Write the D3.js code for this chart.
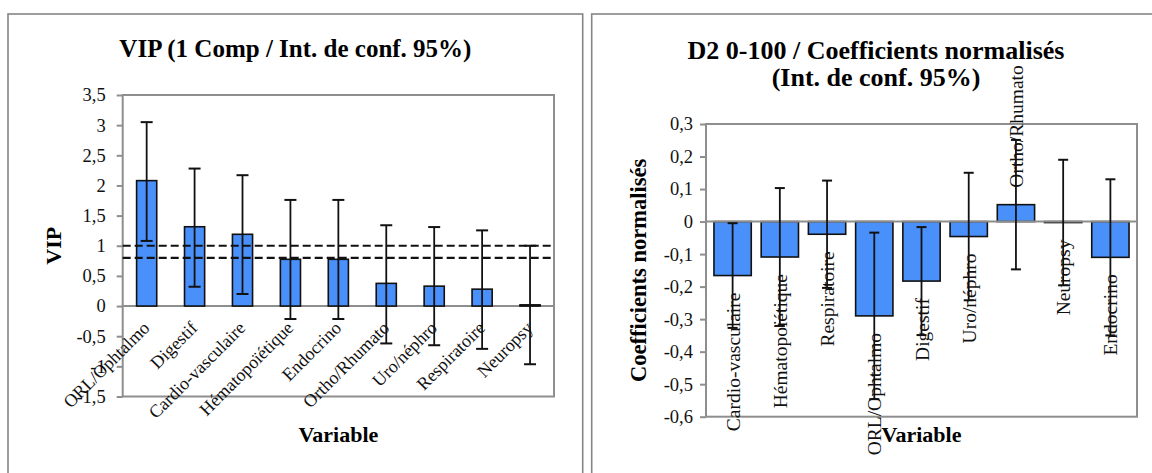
<!DOCTYPE html>
<html>
<head>
<meta charset="utf-8">
<script src="https://cdn.jsdelivr.net/npm/d3@7/dist/d3.min.js"></script>
<style>
  html, body { margin: 0; padding: 0; background: #ffffff; }
  svg { display: block; }
</style>
</head>
<body>
<svg id="chart" width="1152" height="473"></svg>
<script>
// ---------- DATA ----------
const vipCategories = ["ORL/Ophtalmo", "Digestif", "Cardio-vasculaire", "Hématopoïétique", "Endocrino", "Ortho/Rhumato", "Uro/néphro", "Respiratoire", "Neuropsy"];
const vipValues = [2.08, 1.315, 1.19, 0.775, 0.775, 0.376, 0.33, 0.28, 0.02];
const vipLower  = [1.08, 0.32, 0.20, -0.215, -0.215, -0.62, -0.65, -0.71, -0.965];
const vipUpper  = [3.05, 2.28, 2.17, 1.76, 1.76, 1.34, 1.31, 1.255, 1.0];
const vipThresholds = [1, 0.8];
const vipTicks = [-1.5, -1, -0.5, 0, 0.5, 1, 1.5, 2, 2.5, 3, 3.5];

const coefCategories = ["Cardio-vasculaire", "Hématopoïétique", "Respiratoire", "ORL/Ophtalmo", "Digestif", "Uro/néphro", "Ortho/Rhumato", "Neuropsy", "Endocrino"];
const coefValues = [-0.166, -0.109, -0.039, -0.29, -0.183, -0.046, 0.052, -0.003, -0.11];
const coefLower  = [-0.327, -0.321, -0.204, -0.546, -0.349, -0.242, -0.147, -0.196, -0.35];
const coefUpper  = [-0.005, 0.103, 0.126, -0.034, -0.017, 0.150, 0.251, 0.19, 0.13];
const coefTicks = [-0.6, -0.5, -0.4, -0.3, -0.2, -0.1, 0, 0.1, 0.2, 0.3];

const titles = {
  vip: ["VIP (1 Comp / Int. de conf. 95%)"],
  coef: ["D2 0-100 / Coefficients normalisés", "(Int. de conf. 95%)"]
};

// ---------- STYLE ----------
const SERIF = "'Liberation Serif', 'Times New Roman', serif";
const BAR_FILL = "#4a90fa";
const GRID_GRAY = "#8e8e8e";
const fmt = d => String(d).replace(".", ",");

const svg = d3.select("#chart");

// panel frames
svg.append("rect").attr("x", 8).attr("y", 14).attr("width", 574.7).attr("height", 480)
  .attr("fill", "none").attr("stroke", "#858585").attr("stroke-width", 1.6);
svg.append("rect").attr("x", 591.7).attr("y", 14).attr("width", 580).attr("height", 480)
  .attr("fill", "none").attr("stroke", "#858585").attr("stroke-width", 1.6);

// ============ LEFT CHART : VIP ============
(function () {
  const L = 122.7, R = 554, T = 95, B = 396.5;
  const g = svg.append("g");
  const x = d3.scaleBand().domain(vipCategories).range([L, R]).paddingInner(0.58).paddingOuter(0.29);
  const y = d3.scaleLinear().domain([-1.5, 3.5]).range([B, T]);

  // title
  g.append("text").attr("x", 295.4).attr("y", 57).attr("text-anchor", "middle")
    .attr("font-family", SERIF).attr("font-weight", "bold").attr("font-size", 25)
    .text(titles.vip[0]);

  // plot border
  g.append("rect").attr("x", L).attr("y", T).attr("width", R - L).attr("height", B - T)
    .attr("fill", "none").attr("stroke", GRID_GRAY).attr("stroke-width", 2);

  // y axis
  const ax = g.append("g").attr("transform", `translate(${L},0)`)
    .call(d3.axisLeft(y).tickValues(vipTicks).tickFormat(fmt).tickSize(6).tickPadding(11));
  ax.select(".domain").remove();
  ax.selectAll(".tick line").attr("stroke", GRID_GRAY).attr("stroke-width", 2);
  ax.selectAll(".tick text").attr("font-family", SERIF).attr("font-size", 18.5).attr("fill", "#111");

  // zero line
  g.append("line").attr("x1", L).attr("x2", R).attr("y1", y(0)).attr("y2", y(0))
    .attr("stroke", GRID_GRAY).attr("stroke-width", 2);

  // bars
  g.selectAll("rect.bar").data(vipCategories).enter().append("rect").attr("class", "bar")
    .attr("x", d => x(d)).attr("width", x.bandwidth())
    .attr("y", (d, i) => y(Math.max(0, vipValues[i])))
    .attr("height", (d, i) => Math.abs(y(vipValues[i]) - y(0)))
    .attr("fill", BAR_FILL).attr("stroke", "#111").attr("stroke-width", 1.6);

  // threshold dashed lines
  g.selectAll("line.thr").data(vipThresholds).enter().append("line").attr("class", "thr")
    .attr("x1", L).attr("x2", R).attr("y1", d => y(d)).attr("y2", d => y(d))
    .attr("stroke", "#111").attr("stroke-width", 2.2).attr("stroke-dasharray", "8,4");

  // error bars
  const cap = 6;
  vipCategories.forEach((c, i) => {
    const cx = x(c) + x.bandwidth() / 2;
    g.append("line").attr("x1", cx).attr("x2", cx).attr("y1", y(vipLower[i])).attr("y2", y(vipUpper[i]))
      .attr("stroke", "#111").attr("stroke-width", 1.8);
    [vipLower[i], vipUpper[i]].forEach(v => {
      g.append("line").attr("x1", cx - cap).attr("x2", cx + cap).attr("y1", y(v)).attr("y2", y(v))
        .attr("stroke", "#111").attr("stroke-width", 2);
    });
  });

  // category labels rotated -45
  g.selectAll("text.cat").data(vipCategories).enter().append("text").attr("class", "cat")
    .attr("transform", d => `translate(${x(d) + x.bandwidth() / 2 + 4},${y(0) + 23}) rotate(-45)`)
    .attr("text-anchor", "end").attr("font-family", SERIF).attr("font-size", 18).attr("fill", "#111")
    .text(d => d);

  // axis titles
  g.append("text").attr("x", (L + R) / 2).attr("y", 442).attr("text-anchor", "middle")
    .attr("font-family", SERIF).attr("font-weight", "bold").attr("font-size", 22).text("Variable");
  g.append("text").attr("transform", `translate(61,${(T + B) / 2}) rotate(-90)`).attr("text-anchor", "middle")
    .attr("font-family", SERIF).attr("font-weight", "bold").attr("font-size", 22).text("VIP");
})();

// ============ RIGHT CHART : COEFFICIENTS ============
(function () {
  const L = 706, R = 1137, T = 124, B = 416.7;
  const g = svg.append("g");
  const x = d3.scaleBand().domain(coefCategories).range([L + 3, R - 3]).paddingInner(0.21).paddingOuter(0.105);
  const y = d3.scaleLinear().domain([-0.6, 0.3]).range([B, T]);

  // title
  titles.coef.forEach((t, k) => {
    g.append("text").attr("x", 876).attr("y", 59 + k * 27).attr("text-anchor", "middle")
      .attr("font-family", SERIF).attr("font-weight", "bold").attr("font-size", 26).text(t);
  });

  // plot border
  g.append("rect").attr("x", L).attr("y", T).attr("width", R - L).attr("height", B - T)
    .attr("fill", "none").attr("stroke", GRID_GRAY).attr("stroke-width", 2);

  // y axis
  const ax = g.append("g").attr("transform", `translate(${L},0)`)
    .call(d3.axisLeft(y).tickValues(coefTicks).tickFormat(d => fmt(+d.toFixed(1))).tickSize(6).tickPadding(7));
  ax.select(".domain").remove();
  ax.selectAll(".tick line").attr("stroke", GRID_GRAY).attr("stroke-width", 2);
  ax.selectAll(".tick text").attr("font-family", SERIF).attr("font-size", 18.5).attr("fill", "#111");

  // bars
  g.selectAll("rect.bar").data(coefCategories).enter().append("rect").attr("class", "bar")
    .attr("x", d => x(d)).attr("width", x.bandwidth())
    .attr("y", (d, i) => y(Math.max(0, coefValues[i])))
    .attr("height", (d, i) => Math.abs(y(coefValues[i]) - y(0)))
    .attr("fill", BAR_FILL).attr("stroke", "#111").attr("stroke-width", 1.6);

  // zero line
  g.append("line").attr("x1", L).attr("x2", R).attr("y1", y(0)).attr("y2", y(0))
    .attr("stroke", GRID_GRAY).attr("stroke-width", 2);

  // error bars
  const cap = 5;
  coefCategories.forEach((c, i) => {
    const cx = x(c) + x.bandwidth() / 2;
    g.append("line").attr("x1", cx).attr("x2", cx).attr("y1", y(coefLower[i])).attr("y2", y(coefUpper[i]))
      .attr("stroke", "#111").attr("stroke-width", 1.8);
    [coefLower[i], coefUpper[i]].forEach(v => {
      g.append("line").attr("x1", cx - cap).attr("x2", cx + cap).attr("y1", y(v)).attr("y2", y(v))
        .attr("stroke", "#111").attr("stroke-width", 2);
    });
  });

  // category labels, vertical, placed beyond bar end
  g.selectAll("text.cat").data(coefCategories).enter().append("text").attr("class", "cat")
    .attr("transform", (d, i) => {
      const v = coefValues[i];
      const yy = v < 0 ? y(v) + 17 : y(v) - 17;
      return `translate(${x(d) + x.bandwidth() / 2 + 7},${yy}) rotate(-90)`;
    })
    .attr("text-anchor", (d, i) => coefValues[i] < 0 ? "end" : "start")
    .attr("font-family", SERIF).attr("font-size", 19.5).attr("fill", "#111")
    .text(d => d);

  // axis titles
  g.append("text").attr("x", (L + R) / 2).attr("y", 442).attr("text-anchor", "middle")
    .attr("font-family", SERIF).attr("font-weight", "bold").attr("font-size", 22).text("Variable");
  g.append("text").attr("transform", `translate(646,${(T + B) / 2}) rotate(-90)`).attr("text-anchor", "middle")
    .attr("font-family", SERIF).attr("font-weight", "bold").attr("font-size", 22.5).text("Coefficients normalisés");
})();
</script>
</body>
</html>
